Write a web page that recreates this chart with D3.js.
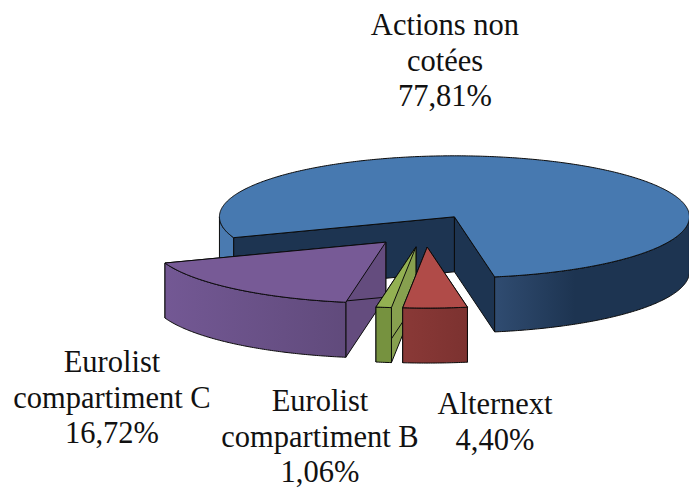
<!DOCTYPE html>
<html>
<head>
<meta charset="utf-8">
<script src="https://cdn.jsdelivr.net/npm/d3@7"></script>
<style>
  html, body { margin: 0; padding: 0; background: #fff; }
  svg { display: block; }
  text { font-family: "Liberation Serif", serif; font-size: 30.5px; fill: #111; text-anchor: middle; }
</style>
</head>
<body>
<div class="chart"></div>
<script>
// data
var categories = ["Actions non cotées", "Alternext", "Eurolist compartiment B", "Eurolist compartiment C"];
var shares = [77.81, 4.40, 1.06, 16.72];
var shareLabels = ["77,81%", "4,40%", "1,06%", "16,72%"];
var labelLines = [["Actions non", "cotées"], ["Alternext"], ["Eurolist", "compartiment B"], ["Eurolist", "compartiment C"]];

var width = 689, height = 489;

/************* layout of the fake 3D pie ***************/
var cx = 425, cy = 230, rx = 235, ry = 61, depth = 55;
var explode = [0.25, 0.28, 0.28, 0.26];
var labelPos = [[445, 35], [495, 414], [320, 411], [112, 372]];
var lineGap = 35.5;

var topColor = ["#4779b0", "#b04b48", "#93b152", "#775a96"];
var cutColor = ["#1d3451", "#7f3330", "#87a04f", "#644c7e"];

var svg = d3.select(".chart").append("svg")
    .attr("width", width)
    .attr("height", height);

var defs = svg.append("defs");
function addGradient(id, x1, x2, c1, c2) {
    var g = defs.append("linearGradient")
        .attr("id", id)
        .attr("gradientUnits", "userSpaceOnUse")
        .attr("x1", x1).attr("x2", x2).attr("y1", 0).attr("y2", 0);
    g.append("stop").attr("offset", 0).attr("stop-color", c1);
    g.append("stop").attr("offset", 1).attr("stop-color", c2);
}
addGradient("wallBlue", 495, 575, "#304c71", "#1d3451");
addGradient("wallRed", 402, 467, "#8a3937", "#7c3230");
addGradient("wallPurple", 165, 351, "#735894", "#604a7b");

var wallFill = [
    function(left) { return left ? "#4a7ab0" : "url(#wallBlue)"; },
    function() { return "url(#wallRed)"; },
    function() { return "#76923f"; },
    function() { return "url(#wallPurple)"; }
];

/************* slices ***************/
var startDeg = -110;
var pie = d3.pie().sort(null).value(function(d) { return d; })
    .startAngle(startDeg * Math.PI / 180)
    .endAngle((startDeg + 360) * Math.PI / 180);
var arcs = pie(shares);

// unit circle to screen, angle runs clockwise from 12 o'clock
var xScale = d3.scaleLinear().domain([-1, 1]).range([cx - rx, cx + rx]);
var yScale = d3.scaleLinear().domain([-1, 1]).range([cy - ry, cy + ry]);
var line = d3.line().x(function(p) { return p[0]; }).y(function(p) { return p[1]; });

function centerOf(d, i) {
    var mid = (d.startAngle + d.endAngle) / 2;
    return [xScale(explode[i] * Math.sin(mid)), yScale(-explode[i] * Math.cos(mid))];
}
function rim(d, i, a) {
    var c = centerOf(d, i);
    return [c[0] + rx * Math.sin(a), c[1] - ry * Math.cos(a)];
}
function samples(a0, a1) {
    var n = Math.max(2, Math.ceil((a1 - a0) / 0.01));
    return d3.range(n + 1).map(function(k) { return a0 + (a1 - a0) * k / n; });
}
function shift(p) { return [p[0], p[1] + depth]; }

// angle stretches of the rim which face the viewer (90deg to 270deg, plus a full turn)
function frontParts(d) {
    var parts = [];
    [-2 * Math.PI, 0, 2 * Math.PI].forEach(function(off) {
        var a0 = Math.max(d.startAngle, Math.PI / 2 + off);
        var a1 = Math.min(d.endAngle, 3 * Math.PI / 2 + off);
        if (a1 > a0) parts.push([a0, a1, off]);
    });
    return parts;
}

var order = [0, 3, 2, 1];
var sliceG = svg.selectAll("g.slice")
    .data(order)
    .enter().append("g")
    .attr("class", "slice");

sliceG.each(function(i) {
    var g = d3.select(this);
    var d = arcs[i];
    var c = centerOf(d, i);

    // cut faces
    [d.startAngle, d.endAngle].forEach(function(a) {
        var p = rim(d, i, a);
        g.append("path")
            .attr("d", line([c, p, shift(p), shift(c)]) + "Z")
            .attr("fill", cutColor[i])
            .attr("stroke", "#0b0b0b")
            .attr("stroke-width", 1)
            .attr("stroke-linejoin", "round");
    });

    // outer wall
    frontParts(d).forEach(function(part) {
        var pts = samples(part[0], part[1]).map(function(a) { return rim(d, i, a); });
        g.append("path")
            .attr("d", line(pts.concat(pts.slice().reverse().map(shift))) + "Z")
            .attr("fill", wallFill[i](part[2] < 0 || (part[0] + part[2] < 0) || part[0] > Math.PI))
            .attr("stroke", "#0b0b0b")
            .attr("stroke-width", 1)
            .attr("stroke-linejoin", "round");
    });

    // top face
    var topPts = [c].concat(samples(d.startAngle, d.endAngle).map(function(a) { return rim(d, i, a); }));
    g.append("path")
        .attr("d", line(topPts) + "Z")
        .attr("fill", topColor[i])
        .attr("stroke", "#0b0b0b")
        .attr("stroke-width", 1)
        .attr("stroke-linejoin", "round");
});

/************* labels ***************/
var labelG = svg.selectAll("text.label")
    .data(categories)
    .enter().append("text")
    .attr("class", "label")
    .attr("x", function(d, i) { return labelPos[i][0]; })
    .attr("y", function(d, i) { return labelPos[i][1]; });

labelG.selectAll("tspan")
    .data(function(d, i) { return labelLines[i].concat(shareLabels[i]); })
    .enter().append("tspan")
    .attr("x", function() { return d3.select(this.parentNode).attr("x"); })
    .attr("dy", function(d, j) { return j ? lineGap : 0; })
    .text(function(d) { return d; });
</script>
</body>
</html>
